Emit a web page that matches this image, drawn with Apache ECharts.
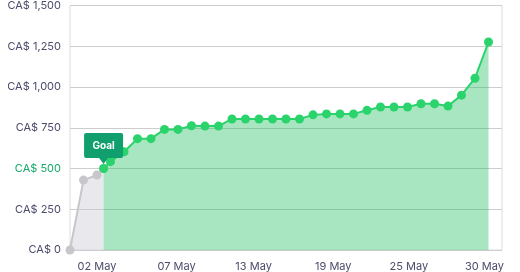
<!DOCTYPE html>
<html>
<head>
<meta charset="utf-8">
<script src="https://cdn.jsdelivr.net/npm/echarts@6/dist/echarts.min.js"></script>
<style>
html,body{margin:0;padding:0;background:#fff;}
#chart{width:520px;height:272px;}
</style>
</head>
<body>
<div id="chart"></div>
<script>
// Day of May (0 = 30 Apr)
const days = [0,1,2,3,4,5,6,7,8,9,10,11,12,13,14,15,16,17,18,19,20,21,22,23,24,25,26,27,28,29,30,31];
// Amount raised (CA$)
const raised = [0,429,460,542,603,683,683,740,740,762,760,760,804,804,804,804,804,804,829,835,835,835,857,877,877,877,897,897,883,950,1054,1276];
const goal = 500;
const goalLabel = 'Goal';
// Y axis
const yMin = 0, yMax = 1500, yStep = 250;
// X tick positions (day of May) and their labels
const tickDays = [2, 7.9, 13.6, 19.5, 25.1, 30.7];
const tickLabels = ['02 May','07 May','13 May','19 May','25 May','30 May'];

// find goal crossing
let ci = raised.findIndex(v => v >= goal);
const t = (goal - raised[ci-1]) / (raised[ci] - raised[ci-1]);
const gx = days[ci-1] + t * (days[ci] - days[ci-1]);
const grayData = [];
for (let i = 0; i < ci; i++) grayData.push([days[i], raised[i]]);
grayData.push([gx, goal]);
const greenData = [[gx, goal]];
for (let i = ci; i < days.length; i++) greenData.push([days[i], raised[i]]);

const green = '#2ad36c';
const textColor = '#4b4b6b';
const chart = echarts.init(document.getElementById('chart'), null, {renderer:'canvas'});
chart.setOption({
  animation: false,
  grid: {left: 70, right: 18, top: 4, bottom: 20, show: true, borderColor: '#dcdcdc', borderWidth: 1, backgroundColor: 'transparent'},
  xAxis: {
    type: 'value', min: 0, max: 32,
    axisLine: {show: false}, axisTick: {show: false}, splitLine: {show: false},
    axisLabel: {
      customValues: tickDays, margin: 11, fontSize: 11, color: textColor, fontFamily: 'Inter, sans-serif',
      formatter: function (v) {
        let best = 0;
        for (let i = 1; i < tickDays.length; i++) if (Math.abs(tickDays[i]-v) < Math.abs(tickDays[best]-v)) best = i;
        return tickLabels[best];
      }
    }
  },
  yAxis: {
    type: 'value', min: yMin, max: yMax, interval: yStep,
    axisLine: {show: false}, axisTick: {show: false},
    splitLine: {lineStyle: {color: '#cdcdcd', width: 1}},
    axisLabel: {
      margin: 9, fontSize: 11, fontFamily: 'Inter, sans-serif',
      color: function (v) { return Number(v) === goal ? '#17a86a' : textColor; },
      formatter: function (v) { return 'CA$ ' + v.toLocaleString('en-US'); }
    }
  },
  series: [
    {
      type: 'line', data: grayData, symbol: 'circle', symbolSize: 9, showSymbol: true,
      itemStyle: {color: '#c6c6cb'}, lineStyle: {color: '#c6c6cb', width: 2},
      areaStyle: {color: 'rgba(205,205,215,0.45)', opacity: 1}, z: 2
    },
    {
      type: 'line', data: greenData, symbol: 'circle', symbolSize: 9, showSymbol: true,
      itemStyle: {color: green}, lineStyle: {color: green, width: 2},
      areaStyle: {color: 'rgba(38,192,100,0.4)', opacity: 1}, z: 3,
      markPoint: {
        symbol: 'path://M2,0 H37 Q39,0 39,2 V23 Q39,25 37,25 H24 L19.5,31 L15,25 H2 Q0,25 0,23 V2 Q0,0 2,0 Z',
        symbolSize: [39, 31], symbolOffset: [0, -20],
        itemStyle: {color: '#119f6e'},
        label: {show: true, formatter: goalLabel, color: '#fff', fontWeight: 'bold', fontSize: 10, fontFamily: 'Inter, sans-serif', offset: [0, -3]},
        data: [{coord: [gx, goal]}]
      }
    }
  ]
});
</script>
</body>
</html>
